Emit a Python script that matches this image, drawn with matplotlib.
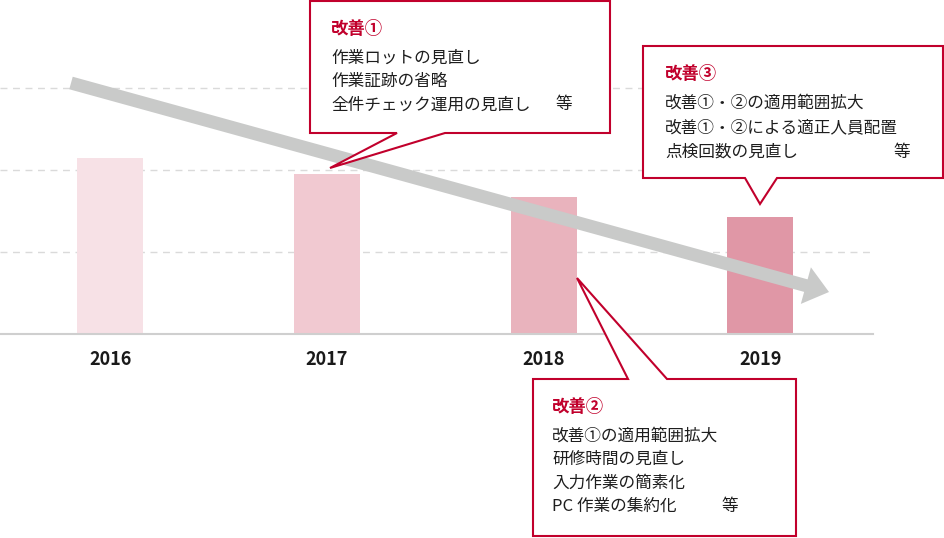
import matplotlib.pyplot as plt
from matplotlib.patches import FancyArrow, Polygon

plt.rcParams['font.family'] = ['Noto Sans CJK JP', 'DejaVu Sans']

# bar data (grid step = 1)
years = ['2016', '2017', '2018', '2019']
values = [2.15, 1.95, 1.67, 1.43]
bar_colors = ['#f7e1e6', '#f1c9d1', '#e9b3bd', '#e097a6']

# callout texts
title1 = '改善①'
lines1 = ['作業ロットの見直し', '作業証跡の省略', '全件チェック運用の見直し']
title2 = '改善②'
lines2 = ['改善①の適用範囲拡大', '研修時間の見直し', '入力作業の簡素化', 'PC 作業の集約化']
title3 = '改善③'
lines3 = ['改善①・②の適用範囲拡大', '改善①・②による適正人員配置', '点検回数の見直し']
etc = '等'

red = '#c1002c'
W, H = 945, 538

fig = plt.figure(figsize=(W / 100, H / 100), dpi=100)
ax = fig.add_axes([0, (H - 334) / H, 873 / W, 334 / H])
x = list(range(len(years)))
ax.bar(x, values, width=0.305, color=bar_colors, zorder=2)
ax.set_xlim(-0.508, 3.52)
ax.set_ylim(0, 334 / 82)
ax.set_yticks([1, 2, 3])
ax.yaxis.grid(True, linestyle=(0, (5, 4)), color='#dadada', linewidth=1, zorder=0)
ax.set_axisbelow(True)
for s in ['left', 'right', 'top']:
    ax.spines[s].set_visible(False)
ax.spines['bottom'].set_color('#cfcfcf')
ax.spines['bottom'].set_linewidth(1.5)
ax.tick_params(left=False, labelleft=False, bottom=False, pad=8)
ax.set_xticks(x, years, fontweight='bold', fontsize=13, color='#1a1a1a')

# overlay in pixel coords for arrow and callouts
ov = fig.add_axes([0, 0, 1, 1])
ov.set_xlim(0, W)
ov.set_ylim(H, 0)
ov.axis('off')

ov.add_patch(FancyArrow(71, 83, 758, 209, width=13, head_width=38, head_length=24,
                        length_includes_head=True, color='#c9cac9', lw=0))

box1 = [(310, 1), (610, 1), (610, 133), (445, 133), (330, 168), (397, 133), (310, 133)]
box2 = [(533, 379), (628, 379), (577, 278), (667, 379), (796, 379), (796, 536), (533, 536)]
box3 = [(643, 46), (943, 46), (943, 178), (777, 178), (760, 204), (745, 178), (643, 178)]
for b in [box1, box2, box3]:
    ov.add_patch(Polygon(b, closed=True, facecolor='white', edgecolor=red,
                         linewidth=1.5, joinstyle='miter'))


def callout(tx, ty, title, lines, etc_x, gap=23.5):
    ov.text(tx, ty, title, color=red, fontsize=12.5, fontweight='bold', va='center')
    for i, t in enumerate(lines):
        y = ty + 29 + i * gap
        ov.text(tx, y, t, color='#1e1e1e', fontsize=12, va='center')
    ov.text(etc_x, ty + 29 + (len(lines) - 1) * gap, etc, color='#1e1e1e',
            fontsize=12, va='center')


callout(331, 29, title1, lines1, 555)
callout(552, 407, title2, lines2, 722)
callout(665, 74, title3, lines3, 893, gap=24.5)

fig.savefig('out.png', dpi=100)
